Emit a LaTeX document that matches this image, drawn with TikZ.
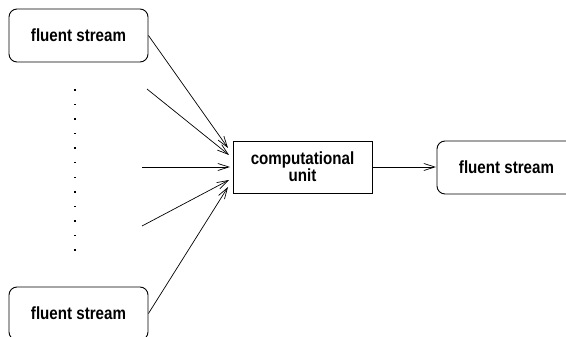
\documentclass[tikz,border=0pt]{standalone}
\usepackage{fontspec}
\newfontfamily\lab{Liberation Sans}[FakeStretch=0.86]
\usetikzlibrary{arrows.meta}
\tikzset{
  lbl/.style={font=\lab\bfseries\fontsize{17.6}{17}\selectfont, align=center},
  stream/.style={lbl, draw, rounded corners=8pt, line width=0.9pt, minimum width=139pt, minimum height=53pt, inner sep=0pt},
  unitbox/.style={lbl, draw, line width=0.9pt, minimum width=139pt, minimum height=52pt, inner sep=0pt},
  conn/.style={line width=0.7pt, -{Straight Barb[length=11pt,width=7pt,line width=0.7pt]}},
  dotmark/.style={fill=black, inner sep=0pt, minimum size=1.5pt, rectangle}
}
\begin{document}
\begin{tikzpicture}[x=1pt,y=-1pt]
\useasboundingbox (0,0) rectangle (566,337);
\clip (0,0) rectangle (566,337);
\node[stream] (ts) at (78.5,35.5) {fluent stream};
\node[stream] (bs) at (78.5,313.5) {fluent stream};
\node[unitbox] (cu) at (302.5,167) {computational\\unit};
\node[stream] (os) at (506.5,167.5) {fluent stream};
\coordinate (s2) at (147,89);
\coordinate (s3) at (142,167);
\coordinate (s4) at (142,226);
\coordinate (e1) at (228,148);
\coordinate (e2) at (229,155);
\coordinate (e3) at (230,167);
\coordinate (e4) at (229,180);
\coordinate (e5) at (228,187);
\coordinate (e6) at (436,167);
\draw[conn] (ts.east) -- (e1);
\draw[conn] (s2) -- (e2);
\draw[conn] (s3) -- (e3);
\draw[conn] (s4) -- (e4);
\draw[conn] (bs.east) -- (e5);
\draw[conn] (cu.east) -- (e6);
\foreach \i in {0,...,11} {
  \node[dotmark] (d\i) at (75,{90+\i*14.55}) {};
}
\end{tikzpicture}
\end{document}
